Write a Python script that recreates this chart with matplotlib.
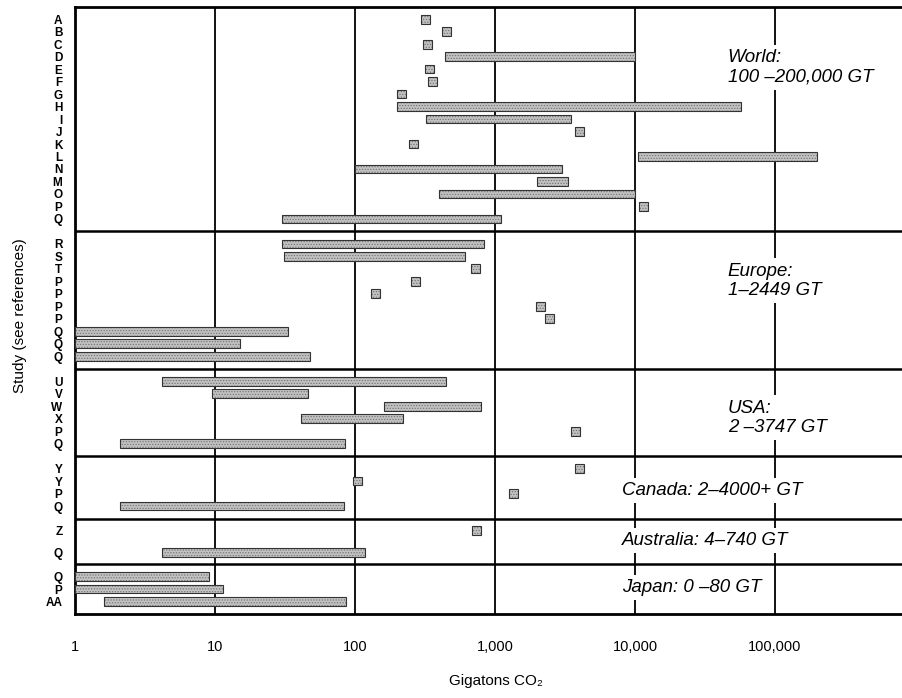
import numpy as np
import matplotlib
matplotlib.use('Agg')
import matplotlib.pyplot as plt

plt.rcParams.update({
    'font.family': ['Liberation Sans', 'DejaVu Sans'],
    'hatch.linewidth': 0.6,
})

# ---- data (GT CO2); a single value is drawn as a small square ----
groups = ['World', 'Europe', 'USA', 'Canada', 'Australia', 'Japan']
group_text = ['World:\n100 \u2013200,000 GT', 'Europe:\n1\u20132449 GT',
              'USA:\n2 \u20133747 GT', 'Canada: 2\u20134000+ GT',
              'Australia: 4\u2013740 GT', 'Japan: 0 \u201380 GT']

world_studies = ['A', 'B', 'C', 'D', 'E', 'F', 'G', 'H', 'I', 'J', 'K', 'L', 'N', 'M', 'O', 'P', 'Q']
world_low  = [320, 450, 330, 440, 340, 360, 215, 200, 320, 4000, 260, 10500, 100, 2000, 400, 11500, 30]
world_high = [320, 450, 330, 10000, 340, 360, 215, 57000, 3500, 4000, 260, 200000, 3000, 3300, 10000, 11500, 1100]

europe_studies = ['R', 'S', 'T', 'P', 'P', 'P', 'P', 'Q', 'Q', 'Q']
europe_low  = [30, 31, 730, 270, 140, 2100, 2449, 1, 1, 1]
europe_high = [830, 610, 730, 270, 140, 2100, 2449, 33, 15, 48]

usa_studies = ['U', 'V', 'W', 'X', 'P', 'Q']
usa_low  = [4.2, 9.5, 160, 41, 3747, 2.1]
usa_high = [450, 46, 790, 220, 3747, 85]

canada_studies = ['Y', 'Y', 'P', 'Q']
canada_low  = [4000, 105, 1350, 2.1]
canada_high = [4000, 105, 1350, 84]

australia_studies = ['Z', 'Q']
australia_low  = [740, 4.2]
australia_high = [740, 118]

japan_studies = ['Q', 'P', 'AA']
japan_low  = [1, 1, 1.6]
japan_high = [9, 11.5, 86]

studies = [world_studies, europe_studies, usa_studies, canada_studies,
           australia_studies, japan_studies]
lows = [world_low, europe_low, usa_low, canada_low, australia_low, japan_low]
highs = [world_high, europe_high, usa_high, canada_high, australia_high, japan_high]

# layout of the bands (row units)
band_height = [18, 11, 7, 5, 3.65, 4]
row_step    = [1, 1, 1, 1, 1.75, 1]
text_offset = [4.84, 3.96, 3.94, 2.76, 1.77, 1.85]
text_x      = [46000, 46000, 46000, 8100, 8100, 8100]

XMIN, XMAX = 1, 10 ** 5.907
SQ = 10 ** 0.032   # half-width of the single-value squares (log units)

fig = plt.figure(figsize=(9.02, 6.98), dpi=100)
ax = fig.add_axes([0.0831, 0.1203, 0.9169, 0.8701])

ypos, ylabels = [], []
top = 0.0
for gi, name in enumerate(groups):
    n = len(studies[gi])
    pad = (band_height[gi] - (n - 1) * row_step[gi]) / 2
    for i in range(n):
        y = top + pad + i * row_step[gi]
        lo, hi = lows[gi][i], highs[gi][i]
        if lo == hi:
            lo, hi = lo / SQ, hi * SQ
        ax.barh(y, hi - lo, left=lo, height=0.7, color='#c2c2c2', hatch='......',
                edgecolor='#767676', linewidth=0, zorder=3)
        ax.barh(y, hi - lo, left=lo, height=0.7, fill=False,
                edgecolor='#333333', linewidth=0.8, zorder=4)
        ypos.append(y)
        ylabels.append(studies[gi][i])
    ax.text(text_x[gi], top + text_offset[gi], group_text[gi], fontsize=13.5,
            style='italic', ha='left', va='center', linespacing=1.2, zorder=5,
            bbox=dict(facecolor='white', edgecolor='none', pad=3))
    top += band_height[gi]
    if gi < len(groups) - 1:
        ax.axhline(top, color='black', lw=1.8, zorder=2)

for d in [10, 100, 1000, 10000, 100000]:
    ax.axvline(d, color='black', lw=1.3, zorder=1)

ax.set_xscale('log')
ax.set_xlim(XMIN, XMAX)
ax.set_ylim(top, 0)
ax.set_xticks([1, 10, 100, 1000, 10000, 100000])
ax.set_xticklabels(['1', '10', '100', '1,000', '10,000', '100,000'], fontsize=10.5)
ax.xaxis.set_minor_locator(matplotlib.ticker.NullLocator())
ax.set_yticks(ypos)
ax.set_yticklabels(ylabels, fontsize=8.5, fontweight='bold')
ax.tick_params(axis='both', length=0)
ax.tick_params(axis='x', pad=19)
ax.tick_params(axis='y', pad=9)

for s in ['left', 'bottom', 'top']:
    ax.spines[s].set_linewidth(2)
ax.spines['right'].set_visible(False)

ax.set_xlabel('Gigatons CO\u2082', fontsize=11)
ax.xaxis.set_label_coords(0.509, -0.098)
ax.set_ylabel('Study (see references)', fontsize=11)
ax.yaxis.set_label_coords(-0.058, 0.492)

fig.savefig('out.png', dpi=100)
